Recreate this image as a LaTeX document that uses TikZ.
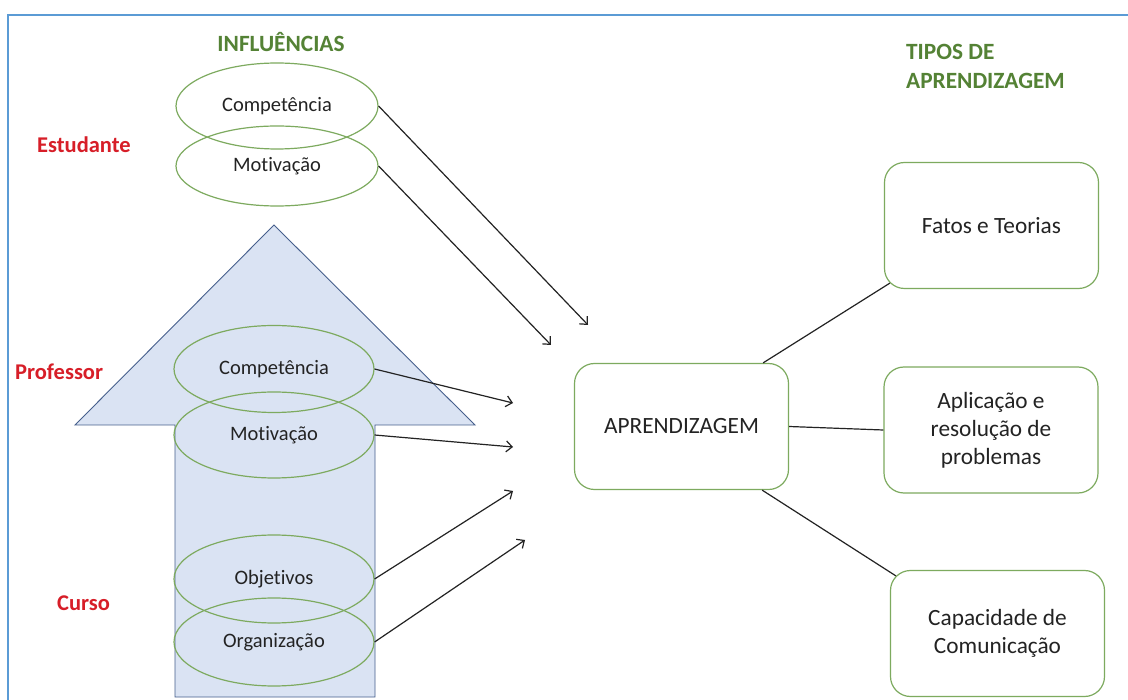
\documentclass[tikz,border=0pt]{standalone}
\usepackage{fontspec}
\setmainfont[Ligatures=NoCommon]{Carlito}
\usetikzlibrary{shapes.geometric,arrows.meta,calc}
\definecolor{frameblue}{RGB}{91,155,213}
\definecolor{titlegreen}{RGB}{84,130,53}
\definecolor{lineGreen}{RGB}{125,170,95}
\definecolor{labelred}{RGB}{215,30,40}
\definecolor{arrowfill}{RGB}{218,227,243}
\definecolor{arrowline}{RGB}{70,95,140}
\definecolor{ink}{RGB}{35,35,35}
\tikzset{
  oval/.style={draw=lineGreen, line width=1.2pt, ellipse, inner sep=0pt, font=\fontsize{20.5}{24}\selectfont, text=ink},
  rbox/.style={draw=lineGreen, line width=1.2pt, rounded corners=20pt, minimum width=214pt, minimum height=126pt, inner sep=0pt, align=center, font=\fontsize{23.3}{28}\selectfont, text=ink},
  grouplabel/.style={font=\bfseries\fontsize{22.5}{26}\selectfont, text=labelred, inner sep=0pt},
  titlelabel/.style={font=\bfseries\fontsize{23.3}{29}\selectfont, text=titlegreen, inner sep=0pt},
  infl/.style={draw=ink, line width=1.2pt, -{Straight Barb[length=6pt,width=11pt,line width=1.2pt]}},
  link/.style={draw=ink, line width=1.2pt}
}
\begin{document}
\begin{tikzpicture}[x=1pt,y=-1pt]
\useasboundingbox (0,0) rectangle (1128,700);
\fill[white] (0,0) rectangle (1128,700);
% frame
\draw[frameblue, line width=2.2pt] (8,700) -- (8,15) -- (1128,15);
% big arrow
\draw[arrowline, fill=arrowfill, line width=0.9pt]
  (274,225) -- (475,425) -- (375,425) -- (375,697) -- (175,697) -- (175,425) -- (75,425) -- cycle;
% titles
\node[titlelabel] (tinfl) at (281,42) {INFLUÊNCIAS};
\node[titlelabel, anchor=west, align=left] (ttipos) at (906,66) {TIPOS DE\\APRENDIZAGEM};
% group labels
\node[grouplabel, anchor=west] (lest) at (37,145) {Estudante};
\node[grouplabel, anchor=west] (lprof) at (15,372) {Professor};
\node[grouplabel, anchor=west] (lcur) at (57,603) {Curso};
% ellipses
\node[oval, minimum width=202pt, minimum height=86pt] (ecomp) at (277,106) {Competência};
\node[oval, minimum width=202pt, minimum height=80pt] (emot) at (277,166) {Motivação};
\node[oval, minimum width=200pt, minimum height=87pt] (pcomp) at (274,369) {Competência};
\node[oval, minimum width=200pt, minimum height=86pt] (pmot) at (274,435) {Motivação};
\node[oval, minimum width=200pt, minimum height=88pt] (cobj) at (274,579) {Objetivos};
\node[oval, minimum width=200pt, minimum height=88pt] (corg) at (274,642) {Organização};
% boxes
\node[rbox] (apr) at (681.5,426.5) {APRENDIZAGEM};
\node[rbox] (fatos) at (991.5,225.5) {Fatos e Teorias};
\node[rbox] (apl) at (991,430) {Aplicação e\\resolução de\\problemas};
\node[rbox] (cap) at (997.5,633.5) {Capacidade de\\Comunicação};
% arrow targets
\coordinate (t1) at (588,325);
\coordinate (t2) at (551,345);
\coordinate (t3) at (513,403);
\coordinate (t4) at (513,447);
\coordinate (t5) at (513,491);
\coordinate (t6) at (525,540);
% influence arrows
\draw[infl] (ecomp.east) -- (t1);
\draw[infl] (emot.east) -- (t2);
\draw[infl] (pcomp.east) -- (t3);
\draw[infl] (pmot.east) -- (t4);
\draw[infl] (cobj.east) -- (t5);
\draw[infl] (corg.east) -- (t6);
% links to types
\draw[link] ([xshift=-26pt]apr.north east) -- ([xshift=6pt,yshift=6pt]fatos.south west);
\draw[link] (apr.east) -- (apl.west);
\draw[link] ([xshift=-27pt]apr.south east) -- ([xshift=6pt,yshift=-6pt]cap.north west);
\end{tikzpicture}
\end{document}
